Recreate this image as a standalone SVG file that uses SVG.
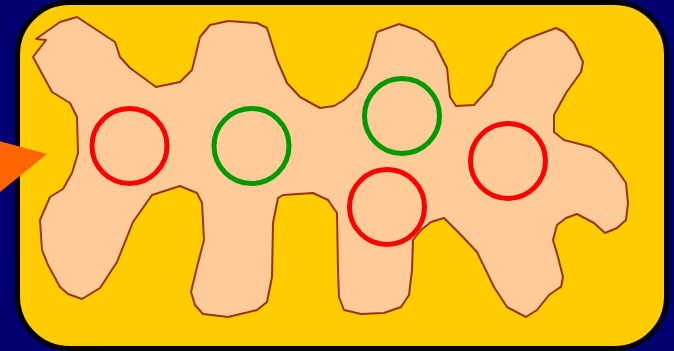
<svg xmlns="http://www.w3.org/2000/svg" width="674" height="351" viewBox="0 0 674 351">
<style>
.ring{fill:none;stroke-width:5}
.red{stroke:#FF0000}
.green{stroke:#009900}
</style>
<rect x="0" y="0" width="674" height="351" fill="#000070"/>
<rect id="frame" x="17.5" y="2.5" width="649" height="346" rx="52" ry="52" fill="#FFCC00" stroke="#000000" stroke-width="5"/>
<polygon id="arrow" points="-5,140 47,154 -5,196" fill="#FF6600"/>
<g id="blob">
<path d="M36,39 L46,40 L43,44 L33,57 L52,92 L70,103 L77,117 L78,153 L72,173 L63,189 L50,197 L40,220 L42,250 L48,265 L60,287 L68,294 L82,299 L100,288 L117,262 L133,222 L152,195 L180,186 L197,193 L202,203 L204,240 L197,267 L191,292 L195,305 L203,314 L228,317 L257,310 L267,302 L272,277 L273,223 L278,198 L283,195 L313,193 L328,200 L337,213 L338,270 L339,297 L344,310 L361,314 L384,313 L401,307 L409,295 L412,270 L413,240 L421,230 L431,222 L444,218 L461,235 L477,252 L494,287 L507,307 L526,317 L537,310 L549,295 L559,288 L561,287 L563,277 L558,257 L553,240 L557,225 L566,218 L577,214 L594,223 L605,233 L617,228 L626,220 L628,203 L626,183 L617,170 L612,163 L601,153 L591,147 L564,140 L554,132 L554,115 L566,93 L581,72 L583,62 L574,43 L564,32 L556,28 L524,40 L507,52 L497,68 L492,85 L474,105 L456,106 L450,97 L447,68 L434,42 L417,30 L399,24 L377,32 L376,35 L367,67 L357,88 L344,100 L334,106 L320,108 L300,97 L287,83 L277,60 L267,28 L257,23 L228,21 L210,25 L200,37 L192,70 L180,82 L156,87 L130,68 L120,57 L115,42 L77,17 L60,22 Z" fill="#FFCC99" stroke="#993300" stroke-width="2" stroke-linejoin="round"/>
</g>
<g id="ring-red-1"><circle class="ring red" cx="129.5" cy="146" r="37.5"/></g>
<g id="ring-green-1"><circle class="ring green" cx="251.5" cy="146" r="37.5"/></g>
<g id="ring-green-2"><circle class="ring green" cx="402" cy="116" r="37.5"/></g>
<g id="ring-red-2"><circle class="ring red" cx="387" cy="207" r="37.5"/></g>
<g id="ring-red-3"><circle class="ring red" cx="508" cy="161" r="37.5"/></g>
<g id="connectors"></g>
</svg>
